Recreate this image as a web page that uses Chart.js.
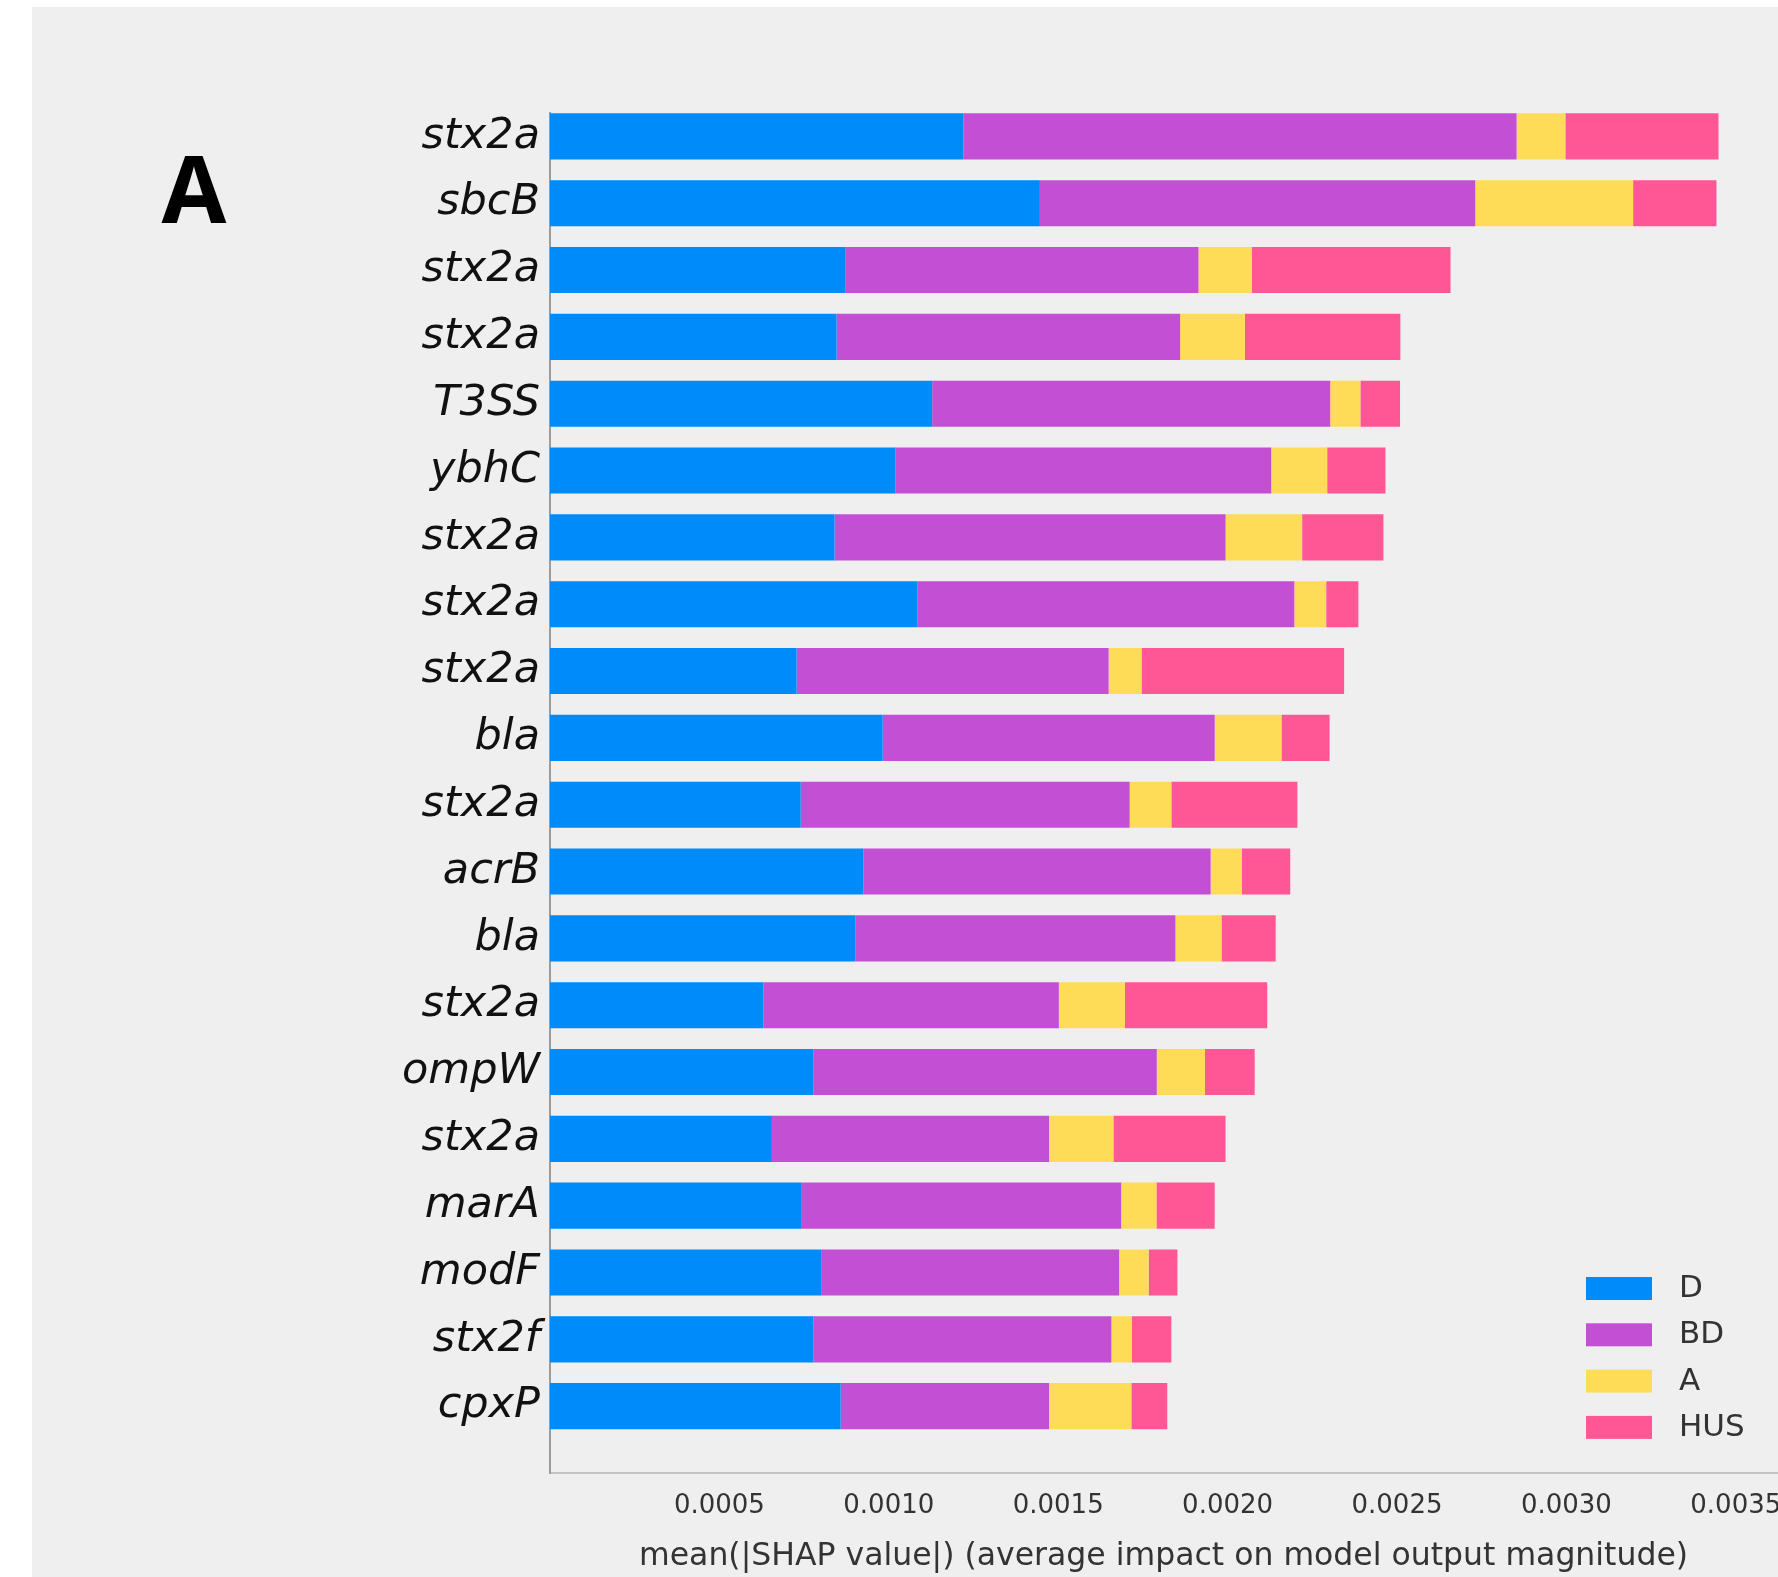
<!DOCTYPE html>
<html>
<head>
<meta charset="utf-8">
<script src="https://cdn.jsdelivr.net/npm/chart.js@4/dist/chart.umd.min.js"></script>
<style>
   html, body { margin: 0; padding: 0; background: #ffffff; overflow: hidden; width: 1778px; height: 1577px; }
   #panel { position: absolute; left: 32px; top: 7px; right: 0; bottom: 0; background: #efefef; }
   #chartBox { position: absolute; left: 0; top: 0; width: 1800px; height: 1577px; }
</style>
</head>
<body>
<div id="panel"></div>
<div id="chartBox"><canvas id="shapChart"></canvas></div>
<script>
// feature names, top to bottom
const features = ['stx2a', 'sbcB', 'stx2a', 'stx2a', 'T3SS', 'ybhC', 'stx2a', 'stx2a', 'stx2a', 'bla',
   'stx2a', 'acrB', 'bla', 'stx2a', 'ompW', 'stx2a', 'marA', 'modF', 'stx2f', 'cpxP'];

// mean |SHAP| per class
const classD   = [0.001220, 0.001446, 0.000871, 0.000846, 0.001128, 0.001020, 0.000840, 0.001085, 0.000728, 0.000982,
   0.000740, 0.000925, 0.000901, 0.000630, 0.000778, 0.000655, 0.000741, 0.000802, 0.000778, 0.000858];
const classBD  = [0.001633, 0.001285, 0.001043, 0.001014, 0.001175, 0.001109, 0.001154, 0.001112, 0.000921, 0.000980,
   0.000971, 0.001025, 0.000945, 0.000872, 0.001013, 0.000818, 0.000945, 0.000878, 0.000879, 0.000615];
const classA   = [0.000144, 0.000466, 0.000158, 0.000191, 0.000089, 0.000165, 0.000226, 0.000094, 0.000097, 0.000197,
   0.000123, 0.000092, 0.000136, 0.000195, 0.000142, 0.000190, 0.000104, 0.000087, 0.000060, 0.000243];
const classHUS = [0.000452, 0.000246, 0.000586, 0.000459, 0.000117, 0.000172, 0.000240, 0.000095, 0.000598, 0.000142,
   0.000372, 0.000143, 0.000160, 0.000420, 0.000147, 0.000331, 0.000172, 0.000085, 0.000117, 0.000106];

const classNames = ['D', 'BD', 'A', 'HUS'];
const classColors = ['#008bfb', '#c350d4', '#ffdc58', '#ff5796'];

function toPoints(values){
   return values.map((v, i) => ({x: v, y: i}));
}

const datasets = [classD, classBD, classA, classHUS].map((values, k) => ({
   label: classNames[k],
   data: toPoints(values),
   backgroundColor: classColors[k],
   borderWidth: 0,
   barPercentage: 0.69,
   categoryPercentage: 1
}));

// legend drawn inside plot, bottom right
const boxLegend = {
   id: 'boxLegend',
   afterDraw(chart){
      const ctx = chart.ctx;
      ctx.save();
      ctx.font = '31px "DejaVu Sans"';
      ctx.textBaseline = 'middle';
      ctx.textAlign = 'left';
      chart.data.datasets.forEach((ds, i) => {
         let top = 1277 + i * 46.3;
         ctx.fillStyle = ds.backgroundColor;
         ctx.fillRect(1586, top, 66, 23);
         ctx.fillStyle = '#333333';
         ctx.fillText(ds.label, 1679, top + 12);
      });
      ctx.restore();
   }
};

// panel letter
const panelLetter = {
   id: 'panelLetter',
   afterDraw(chart){
      const ctx = chart.ctx;
      ctx.save();
      ctx.font = 'bold 94px "Open Sans"';
      ctx.fillStyle = '#000000';
      ctx.textAlign = 'center';
      ctx.textBaseline = 'middle';
      ctx.fillText('A', 194, 196);
      ctx.restore();
   }
};

new Chart(document.getElementById('shapChart').getContext('2d'), {
   type: 'bar',
   data: { datasets: datasets },
   options: {
      indexAxis: 'y',
      responsive: true,
      maintainAspectRatio: false,
      animation: false,
      layout: { padding: { top: 113, right: 22, bottom: 0, left: 0 } },
      plugins: {
         legend: { display: false },
         tooltip: { enabled: false }
      },
      scales: {
         x: {
            type: 'linear',
            stacked: true,
            min: 0,
            max: 0.003622,
            grid: { display: false, drawTicks: false },
            border: { display: true, color: '#c2c2c2', width: 2 },
            ticks: {
               stepSize: 0.0005,
               includeBounds: false,
               padding: 18,
               color: '#333333',
               font: { family: 'DejaVu Sans', size: 26 },
               callback: (v) => v === 0 ? '' : v.toFixed(4)
            },
            title: {
               display: true,
               text: 'mean(|SHAP value|) (average impact on model output magnitude)',
               color: '#333333',
               font: { family: 'DejaVu Sans', size: 31.5, lineHeight: 1 },
               padding: { top: 0, bottom: 4 }
            },
            afterFit: (scale) => { scale.height = 104; }
         },
         y: {
            type: 'linear',
            stacked: true,
            reverse: true,
            offset: false,
            min: -0.35,
            max: 20,
            grid: { display: false, drawTicks: false },
            border: { display: true, color: '#9c9c9c', width: 2 },
            afterBuildTicks: (scale) => { scale.ticks = features.map((n, i) => ({value: i})); },
            ticks: {
               autoSkip: false,
               padding: 10,
               color: '#111111',
               font: { family: 'DejaVu Sans', size: 43, style: 'italic' },
               callback: (v) => features[v]
            },
            afterFit: (scale) => { scale.width = 550; }
         }
      }
   },
   plugins: [boxLegend, panelLetter]
});
</script>
</body>
</html>
